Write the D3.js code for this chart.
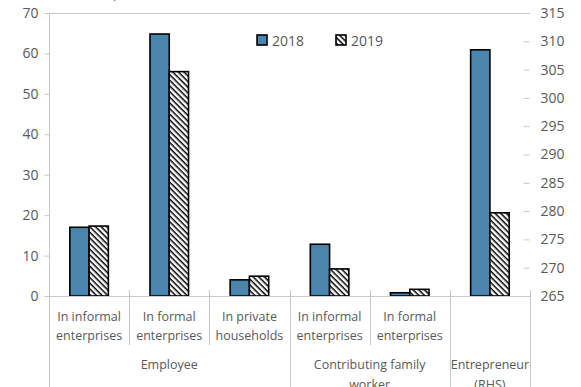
<!DOCTYPE html>
<html><head><meta charset="utf-8">
<script src="https://cdn.jsdelivr.net/npm/d3@7"></script>
<style>body{margin:0;background:#fff;} svg{display:block;font-family:"Open Sans",sans-serif;}</style>
</head><body>
<svg id="c" width="581" height="387"></svg>
<script>
const subLabels = [["In informal","enterprises"],["In formal","enterprises"],["In private","households"],["In informal","enterprises"],["In formal","enterprises"],["",""]];
const categories = ["emp_inf","emp_form","emp_hh","cfw_inf","cfw_form","entre"];
const groups = [{name:["Employee"], from:0, to:3},{name:["Contributing family","worker"], from:3, to:5},{name:["Entrepreneur","(RHS)"], from:5, to:6}];
const series = ["2018","2019"];
const values2018 = [17.0, 64.8, 4.0, 12.8, 0.8, 308.5];
const values2019 = [17.3, 55.5, 4.9, 6.7, 1.65, 279.7];
const rhsIndex = 5;
const leftTicks = [0,10,20,30,40,50,60,70];
const rightTicks = [265,270,275,280,285,290,295,300,305,310,315];

const svg = d3.select("#c");
const L=49, R=530, T=13, B=296;
const grey="#595959", axisCol="#c8c8c8", blue="#4a85ad";

const defs = svg.append("defs");
const pat = defs.append("pattern").attr("id","hatch").attr("patternUnits","userSpaceOnUse")
  .attr("width",4).attr("height",4).attr("patternTransform","rotate(45)");
pat.append("rect").attr("width",4).attr("height",4).attr("fill","#fff");
pat.append("line").attr("x1",0).attr("y1",0.75).attr("x2",4).attr("y2",0.75).attr("stroke","#000").attr("stroke-width",1.5);

const x = d3.scaleBand().domain(categories).range([L,R]).padding(0);
const xs = d3.scaleBand().domain(series).range([0,x.bandwidth()]).paddingInner(0).paddingOuter(1.08);
const yL = d3.scaleLinear().domain([0,70]).range([B,T]);
const yR = d3.scaleLinear().domain([265,315]).range([B,T]);

// partial title at top
svg.append("text").attr("x",61).attr("y",-3).attr("fill","#2e75b6").attr("font-size",14).text("(million persons)");

// frame: top line and left line
svg.append("line").attr("x1",L).attr("x2",R).attr("y1",T+0.5).attr("y2",T+0.5).attr("stroke",axisCol);
svg.append("line").attr("x1",L+0.5).attr("x2",L+0.5).attr("y1",T).attr("y2",387).attr("stroke",axisCol);

// left axis
const gl = svg.append("g").attr("transform",`translate(${L+0.5},0)`).call(d3.axisLeft(yL).tickValues(leftTicks).tickSize(5).tickPadding(6));
gl.select(".domain").remove();
gl.selectAll("line").attr("stroke",axisCol);
gl.selectAll("text").attr("fill",grey).attr("font-size",14).attr("font-family","Open Sans");

// right axis (ticks inside, labels outside)
const gr = svg.append("g").attr("transform",`translate(${R-0.5},0)`).call(d3.axisRight(yR).tickValues(rightTicks).tickSize(0).tickPadding(11));
gr.select(".domain").remove();
gr.selectAll("text").attr("fill",grey).attr("font-size",14).attr("font-family","Open Sans");
gr.selectAll(".tick").filter(d=>d>265 && d<315).append("line").attr("x1",-6).attr("x2",0).attr("stroke",axisCol);

// bars
const data = categories.map((c,i)=>({c,i,vals:[values2018[i],values2019[i]]}));
data.forEach(d=>{
  const ys = d.i===rhsIndex ? yR : yL;
  series.forEach((s,k)=>{
    const v=d.vals[k];
    svg.append("rect").attr("x",x(d.c)+xs(s)).attr("width",xs.bandwidth())
      .attr("y",ys(v)).attr("height",B-ys(v))
      .attr("fill", k===0?blue:"url(#hatch)").attr("stroke","#000").attr("stroke-width",1.6);
  });
});

// baseline
svg.append("line").attr("x1",L).attr("x2",R).attr("y1",B+0.5).attr("y2",B+0.5).attr("stroke",axisCol);

// separators
categories.forEach((c,i)=>{
  const xp = Math.round(x(c)+x.bandwidth())+0.5;
  const isGroupEnd = groups.some(g=>g.to===i+1);
  svg.append("line").attr("x1",xp).attr("x2",xp).attr("y1",B-6).attr("y2",isGroupEnd?387:345).attr("stroke",axisCol);
});

// sub labels
categories.forEach((c,i)=>{
  const cx = x(c)+x.bandwidth()/2;
  subLabels[i].forEach((t,j)=>{
    svg.append("text").attr("x",cx).attr("y",321+j*19).attr("text-anchor","middle").attr("fill",grey).attr("font-size",12.5).text(t);
  });
});
// group labels
groups.forEach(g=>{
  const cx = (x(categories[g.from]) + x(categories[g.to-1])+x.bandwidth())/2;
  g.name.forEach((t,j)=>{
    svg.append("text").attr("x",cx).attr("y",369+j*20).attr("text-anchor","middle").attr("fill",grey).attr("font-size",12.5).text(t);
  });
});

// legend
const leg = [{s:"2018",x:257,fill:blue},{s:"2019",x:336,fill:"url(#hatch)"}];
leg.forEach(l=>{
  svg.append("rect").attr("x",l.x).attr("y",35).attr("width",10).attr("height",10).attr("fill",l.fill).attr("stroke","#000").attr("stroke-width",1.6);
  svg.append("text").attr("x",l.x+15).attr("y",46).attr("fill",grey).attr("font-size",14).text(l.s);
});
</script>
</body></html>
